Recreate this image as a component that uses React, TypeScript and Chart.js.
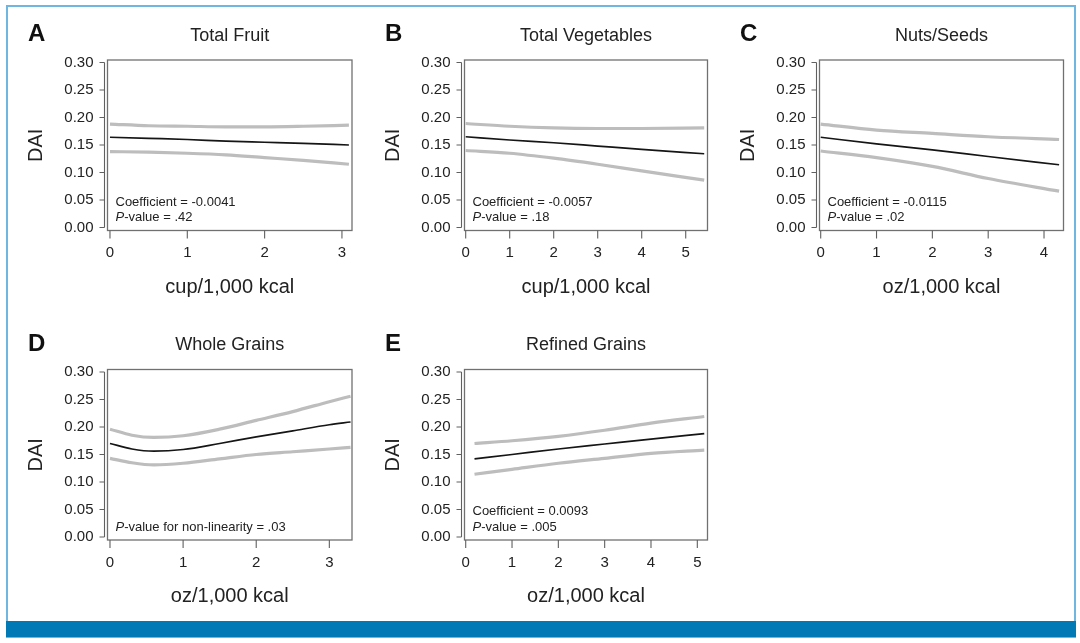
import React, { useEffect, useRef } from 'react';
import { Chart, registerables } from 'chart.js';

Chart.register(...registerables);

const FONT = '"Liberation Sans", Arial, Helvetica, sans-serif';
const W = 1080;
const H = 643;

// ---- shared axis data ----
const yTicks = [0, 0.05, 0.1, 0.15, 0.2, 0.25, 0.3];
const yMin = -0.0055;
const yMax = 0.3045;
const yTitle = 'DAI';

// ---- Panel A: Total Fruit ----
const fruitX = [0, 0.5, 1, 1.5, 2, 2.5, 3.09];
const fruitFit = [0.164, 0.162, 0.16, 0.157, 0.155, 0.153, 0.15];
const fruitUpper = [0.188, 0.185, 0.184, 0.183, 0.183, 0.184, 0.186];
const fruitLower = [0.138, 0.137, 0.135, 0.132, 0.127, 0.122, 0.115];
const fruitTicks = [0, 1, 2, 3];

// ---- Panel B: Total Vegetables ----
const vegX = [0, 1, 2, 3, 4, 5.42];
const vegFit = [0.165, 0.159, 0.154, 0.148, 0.142, 0.134];
const vegUpper = [0.189, 0.184, 0.181, 0.18, 0.18, 0.181];
const vegLower = [0.14, 0.135, 0.126, 0.115, 0.103, 0.086];
const vegTicks = [0, 1, 2, 3, 4, 5];

// ---- Panel C: Nuts/Seeds ----
const nutsX = [0, 1, 2, 3, 4.27];
const nutsFit = [0.164, 0.152, 0.141, 0.129, 0.114];
const nutsUpper = [0.188, 0.177, 0.171, 0.165, 0.16];
const nutsLower = [0.139, 0.127, 0.111, 0.089, 0.066];
const nutsTicks = [0, 1, 2, 3, 4];

// ---- Panel D: Whole Grains ----
const wgX = [0, 0.3, 0.6, 1, 1.5, 2, 2.5, 3, 3.29];
const wgFit = [0.17, 0.16, 0.156, 0.159, 0.17, 0.182, 0.193, 0.204, 0.209];
const wgUpper = [0.196, 0.185, 0.181, 0.184, 0.196, 0.212, 0.228, 0.246, 0.256];
const wgLower = [0.143, 0.135, 0.131, 0.134, 0.142, 0.15, 0.155, 0.16, 0.163];
const wgTicks = [0, 1, 2, 3];

// ---- Panel E: Refined Grains ----
const rgX = [0.19, 1, 2, 3, 4, 5.15];
const rgFit = [0.142, 0.15, 0.16, 0.169, 0.178, 0.188];
const rgUpper = [0.17, 0.175, 0.183, 0.194, 0.207, 0.219];
const rgLower = [0.114, 0.123, 0.134, 0.143, 0.152, 0.158];
const rgTicks = [0, 1, 2, 3, 4, 5];

type Line = { italic?: string; text: string };

type Panel = {
  letter: string;
  title: string;
  xTitle: string;
  x: number[];
  fit: number[];
  upper: number[];
  lower: number[];
  xTicks: number[];
  xMin: number;
  xMax: number;
  box: { l: number; t: number; r: number; b: number };
  note: Line[];
};

const panels: Panel[] = [
  {
    letter: 'A', title: 'Total Fruit', xTitle: 'cup/1,000 kcal',
    x: fruitX, fit: fruitFit, upper: fruitUpper, lower: fruitLower,
    xTicks: fruitTicks, xMin: -0.032, xMax: 3.13,
    box: { l: 107.5, t: 60, r: 352, b: 230.5 },
    note: [{ text: 'Coefficient = -0.0041' }, { italic: 'P', text: '-value = .42' }],
  },
  {
    letter: 'B', title: 'Total Vegetables', xTitle: 'cup/1,000 kcal',
    x: vegX, fit: vegFit, upper: vegUpper, lower: vegLower,
    xTicks: vegTicks, xMin: -0.027, xMax: 5.495,
    box: { l: 464.5, t: 60, r: 707.5, b: 230.5 },
    note: [{ text: 'Coefficient = -0.0057' }, { italic: 'P', text: '-value = .18' }],
  },
  {
    letter: 'C', title: 'Nuts/Seeds', xTitle: 'oz/1,000 kcal',
    x: nutsX, fit: nutsFit, upper: nutsUpper, lower: nutsLower,
    xTicks: nutsTicks, xMin: -0.0215, xMax: 4.349,
    box: { l: 819.5, t: 60, r: 1063.5, b: 230.5 },
    note: [{ text: 'Coefficient = -0.0115' }, { italic: 'P', text: '-value = .02' }],
  },
  {
    letter: 'D', title: 'Whole Grains', xTitle: 'oz/1,000 kcal',
    x: wgX, fit: wgFit, upper: wgUpper, lower: wgLower,
    xTicks: wgTicks, xMin: -0.034, xMax: 3.31,
    box: { l: 107.5, t: 369.5, r: 352, b: 540 },
    note: [{ italic: 'P', text: '-value for non-linearity = .03' }],
  },
  {
    letter: 'E', title: 'Refined Grains', xTitle: 'oz/1,000 kcal',
    x: rgX, fit: rgFit, upper: rgUpper, lower: rgLower,
    xTicks: rgTicks, xMin: -0.026, xMax: 5.22,
    box: { l: 464.5, t: 369.5, r: 707.5, b: 540 },
    note: [{ text: 'Coefficient = 0.0093' }, { italic: 'P', text: '-value = .005' }],
  },
];

const Y_AXIS_W = 90;
const X_AXIS_H = 68.5;

function makePlugin(p: Panel) {
  return {
    id: 'panelDecor' + p.letter,
    afterDatasetsDraw(chart: any) {
      const ctx = chart.ctx as CanvasRenderingContext2D;
      const a = chart.chartArea;
      const xs = chart.scales.x;
      const ys = chart.scales.y;
      ctx.save();
      // plot box
      ctx.strokeStyle = '#707070';
      ctx.lineWidth = 1.3;
      ctx.strokeRect(a.left, a.top, a.right - a.left, a.bottom - a.top);
      // y axis line + ticks
      const ax = a.left - 3;
      ctx.strokeStyle = '#606060';
      ctx.lineWidth = 1.1;
      ctx.beginPath();
      ctx.moveTo(ax, ys.getPixelForValue(yTicks[0]));
      ctx.lineTo(ax, ys.getPixelForValue(yTicks[yTicks.length - 1]));
      yTicks.forEach((v) => {
        const py = ys.getPixelForValue(v);
        ctx.moveTo(ax, py);
        ctx.lineTo(ax - 5, py);
      });
      // x ticks
      p.xTicks.forEach((v) => {
        const px = xs.getPixelForValue(v);
        ctx.moveTo(px, a.bottom);
        ctx.lineTo(px, a.bottom + 8);
      });
      ctx.stroke();

      // panel letter
      ctx.fillStyle = '#111';
      ctx.textBaseline = 'middle';
      ctx.textAlign = 'left';
      ctx.font = `bold 24px ${FONT}`;
      ctx.fillText(p.letter, a.left - 79.5, a.top - 25.5);
      // panel title
      ctx.font = `18px ${FONT}`;
      ctx.textAlign = 'center';
      ctx.fillStyle = '#222';
      ctx.fillText(p.title, (a.left + a.right) / 2, a.top - 24);

      // annotation
      ctx.textAlign = 'left';
      const n = p.note.length;
      p.note.forEach((ln, i) => {
        const y = n === 1 ? a.bottom - 12.5 : a.bottom - 28.5 + i * 15.5;
        let x = a.left + 8;
        if (ln.italic) {
          ctx.font = `italic 13px ${FONT}`;
          ctx.fillText(ln.italic, x, y);
          x += ctx.measureText(ln.italic).width;
        }
        ctx.font = `13px ${FONT}`;
        ctx.fillText(ln.text, x, y);
      });
      ctx.restore();
    },
  };
}

function PanelChart({ p }: { p: Panel }) {
  const ref = useRef<HTMLCanvasElement | null>(null);
  useEffect(() => {
    if (!ref.current) return;
    const pts = (ys: number[]) => p.x.map((x, i) => ({ x, y: ys[i] }));
    const ciStyle = {
      borderColor: '#bdbdbd',
      borderWidth: 3.2,
      pointRadius: 0,
      cubicInterpolationMode: 'monotone' as const,
      order: 2,
    };
    const chart = new Chart(ref.current, {
      type: 'line',
      data: {
        datasets: [
          { label: 'Estimate', data: pts(p.fit), borderColor: '#151515', borderWidth: 1.7, pointRadius: 0, cubicInterpolationMode: 'monotone', order: 1 },
          { label: 'Upper 95% CI', data: pts(p.upper), ...ciStyle },
          { label: 'Lower 95% CI', data: pts(p.lower), ...ciStyle },
        ],
      },
      options: {
        responsive: false,
        animation: false,
        devicePixelRatio: 1,
        layout: {
          padding: {
            left: p.box.l - Y_AXIS_W,
            top: p.box.t,
            right: W - p.box.r,
            bottom: H - p.box.b - X_AXIS_H,
          },
        },
        plugins: { legend: { display: false }, tooltip: { enabled: false }, title: { display: false } },
        scales: {
          x: {
            type: 'linear',
            position: 'bottom',
            min: p.xMin,
            max: p.xMax,
            grid: { display: false, drawTicks: false },
            border: { display: false },
            afterBuildTicks: (s: any) => { s.ticks = p.xTicks.map((v) => ({ value: v })); },
            afterFit: (s: any) => { s.height = X_AXIS_H; },
            ticks: {
              autoSkip: false,
              padding: 13.5,
              color: '#222',
              font: { family: FONT, size: 15 },
              callback: (v: any) => String(v),
            },
            title: {
              display: true,
              text: p.xTitle,
              color: '#222',
              font: { family: FONT, size: 20 },
              padding: { top: 0, bottom: 0 },
            },
          },
          y: {
            type: 'linear',
            position: 'left',
            min: yMin,
            max: yMax,
            grid: { display: false, drawTicks: false },
            border: { display: false },
            afterBuildTicks: (s: any) => { s.ticks = yTicks.map((v) => ({ value: v })); },
            afterFit: (s: any) => { s.width = Y_AXIS_W; },
            ticks: {
              autoSkip: false,
              padding: 14,
              color: '#222',
              font: { family: FONT, size: 15 },
              callback: (v: any) => Number(v).toFixed(2),
            },
            title: {
              display: true,
              text: yTitle,
              color: '#222',
              font: { family: FONT, size: 20 },
              padding: { top: 6.5, bottom: 0 },
            },
          },
        },
      },
      plugins: [makePlugin(p)],
    } as any);
    return () => chart.destroy();
  }, [p]);
  return (
    <canvas
      ref={ref}
      width={W}
      height={H}
      style={{ position: 'absolute', left: 0, top: 0, width: W, height: H }}
    />
  );
}

export default function App() {
  return (
    <div style={{ position: 'fixed', left: 0, top: 0, width: W, height: H, background: '#fff', overflow: 'hidden' }}>
      <div
        style={{
          position: 'absolute', left: 6, top: 5, width: 1070, height: 632,
          boxSizing: 'border-box', border: '2px solid #6fb6e0', borderBottom: 'none',
        }}
      />
      <div style={{ position: 'absolute', left: 6, top: 621, width: 1070, height: 16, background: '#0079b5', borderBottom: '1px solid #6fb6e0' }} />
      {panels.map((p) => (
        <PanelChart key={p.letter} p={p} />
      ))}
    </div>
  );
}
